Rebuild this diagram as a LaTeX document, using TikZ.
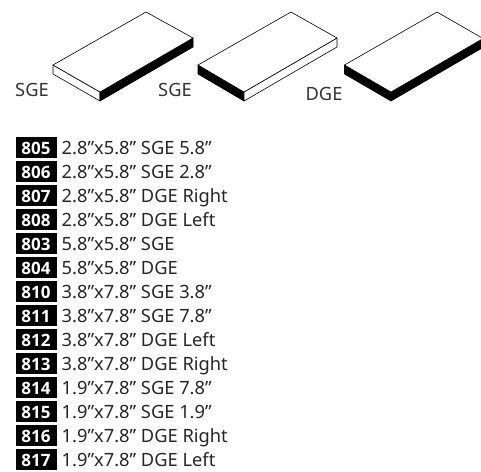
\documentclass[tikz,border=0pt]{standalone}
\usepackage{fontspec}
\setmainfont{Noto Sans}
\newfontfamily\codefont{Open Sans}
\tikzset{
    slabtop/.style={draw,fill=white,line width=0.6pt,line join=round},
    slabedge/.style={draw,fill=black,line width=0.6pt,line join=round},
    slabside/.style={draw,fill=white,line width=0.6pt,line join=round},
    codebox/.style={fill=black,minimum width=41.5pt,minimum height=21pt,inner sep=0pt,anchor=west},
    codetext/.style={anchor=base,inner sep=0pt,text=white,font=\fontsize{17}{18}\codefont\bfseries},
    sizetext/.style={anchor=base west,inner sep=0pt,text=black!85,font=\fontsize{18.3}{20}\selectfont},
    edgetext/.style={anchor=base,inner sep=0pt,text=black!80,font=\fontsize{18.3}{20}\selectfont}
}
\begin{document}
\begin{tikzpicture}[x=1pt,y=-1pt]

\useasboundingbox (0,0) rectangle (481,471);

% left slab
\coordinate (aw) at (53,65);
\coordinate (an) at (146,12);
\coordinate (ae) at (193,38);
\coordinate (as) at (100,92);
\path [slabside] (aw) -- (as) -- (100,101) -- (53,74) -- cycle;
\path [slabedge] (as) -- (ae) -- (193,47) -- (100,101) -- cycle;
\path [slabtop] (aw) -- (an) -- (ae) -- (as) -- cycle;

% middle slab
\coordinate (bw) at (198,65);
\coordinate (bn) at (291,12);
\coordinate (be) at (337,38);
\coordinate (bs) at (244,92);
\path [slabedge] (bw) -- (bs) -- (244,101) -- (198,74) -- cycle;
\path [slabside] (bs) -- (be) -- (337,47) -- (244,101) -- cycle;
\path [slabtop] (bw) -- (bn) -- (be) -- (bs) -- cycle;

% right slab
\coordinate (cw) at (344.5,65);
\coordinate (cn) at (437,12);
\coordinate (ce) at (483,38.5);
\coordinate (cs) at (391,92);
\begin{scope}
\clip (0,0) rectangle (481,471);
\path [slabedge] (cw) -- (cs) -- (391,101) -- (344.5,74) -- cycle;
\path [slabedge] (cs) -- (ce) -- (483,47.5) -- (391,101) -- cycle;
\path [slabtop] (cw) -- (cn) -- (ce) -- (cs) -- cycle;
\end{scope}

\node [edgetext] (sgea) at (32,96) {SGE};
\node [edgetext] (sgeb) at (175,96) {SGE};
\node [edgetext] (dge) at (324,100) {DGE};

\foreach \code/\size [count=\row from 0] in {
    805/{2.8”x5.8” SGE 5.8”},
    806/{2.8”x5.8” SGE 2.8”},
    807/{2.8”x5.8” DGE Right},
    808/{2.8”x5.8” DGE Left},
    803/{5.8”x5.8” SGE},
    804/{5.8”x5.8” DGE},
    810/{3.8”x7.8” SGE 3.8”},
    811/{3.8”x7.8” SGE 7.8”},
    812/{3.8”x7.8” DGE Left},
    813/{3.8”x7.8” DGE Right},
    814/{1.9”x7.8” SGE 7.8”},
    815/{1.9”x7.8” SGE 1.9”},
    816/{1.9”x7.8” DGE Right},
    817/{1.9”x7.8” DGE Left}
}{
    \node [codebox] (box\code) at (15.3,147.5+24*\row) {};
    \node [codetext] (tag\code) at (36,154+24*\row) {\code};
    \node [sizetext] (size\code) at (61.5,154+24*\row) {\size};
}

\end{tikzpicture}
\end{document}
